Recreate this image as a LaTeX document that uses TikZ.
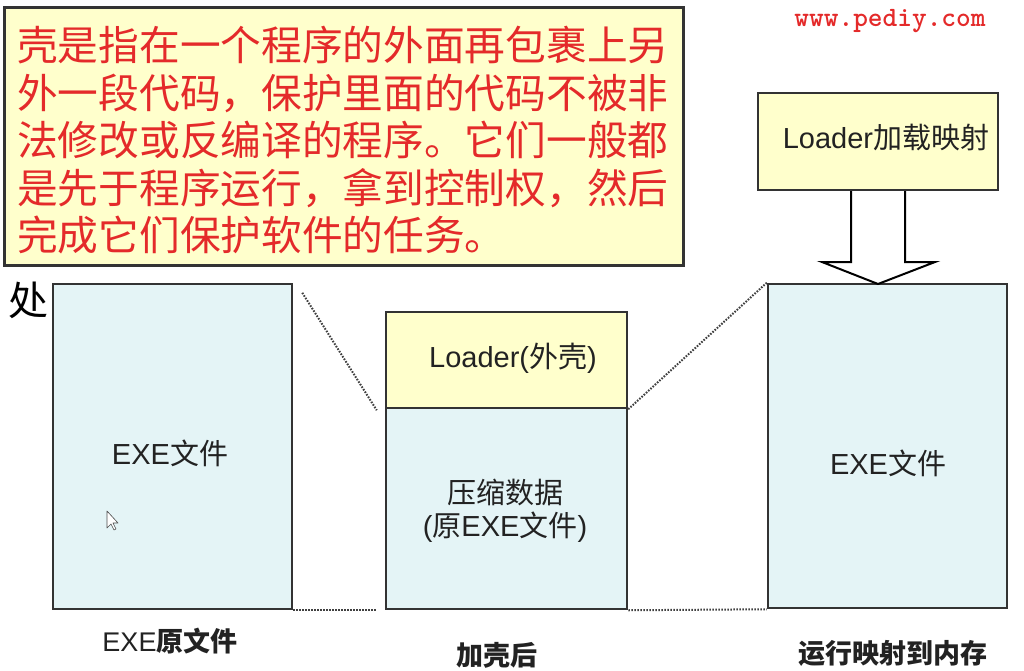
\documentclass[tikz,border=0pt]{standalone}
\usepackage{fontspec}
\setmainfont{Liberation Sans}
\newfontfamily\cjk{Noto Sans CJK SC}
\definecolor{noteyellow}{HTML}{FFFFCC}
\definecolor{boxblue}{HTML}{E4F4F6}
\definecolor{notered}{HTML}{E42A2A}
\definecolor{edgegray}{HTML}{333333}
\definecolor{txtgray}{HTML}{222222}
\begin{document}
\begin{tikzpicture}[x=1pt,y=-1pt,
  box/.style={draw=edgegray, line width=2.5pt, inner sep=0pt},
  bluebox/.style={box, fill=boxblue},
  yellowbox/.style={box, fill=noteyellow},
  txt/.style={inner sep=0pt, text=txtgray, align=center, font=\fontsize{29}{33}\selectfont},
  captxt/.style={inner sep=0pt, text=txtgray, font=\cjk\bfseries\fontsize{27}{32}\selectfont},
  dots/.style={draw=black!75, line width=2pt, dash pattern=on 1.6pt off 1.4pt},
  hollowarrow/.style={draw=black, fill=white, line width=2pt, line join=miter}]
\useasboundingbox (0,0) rectangle (1024,671);
\fill[white] (0,0) rectangle (1024,671);

% note box
\node[yellowbox, line width=3pt, minimum width=679pt, minimum height=257pt] (note) at (343.5,136.5) {};
\node[anchor=north west, inner sep=0pt, text=notered, align=left,
      font=\cjk\fontsize{40.7}{47.5}\selectfont] (notetext) at (17,26)
  {壳是指在一个程序的外面再包裹上另\\外一段代码，保护里面的代码不被非\\法修改或反编译的程序。它们一般都\\是先于程序运行，拿到控制权，然后\\完成它们保护软件的任务。};

% watermark
\node[inner sep=0pt, text=notered, font=\ttfamily\bfseries\fontsize{28}{30}\selectfont] (wm) at (890,21) {www.pediy.com};

% boxes
\node[bluebox, minimum width=239pt, minimum height=325pt] (orig) at (172.5,446.5) {};
\node[yellowbox, minimum width=241pt, minimum height=96pt] (shell) at (506.5,360) {};
\node[bluebox, minimum width=241pt, minimum height=201pt] (packed) at (506.5,508.5) {};
\node[bluebox, minimum width=239pt, minimum height=324pt] (mem) at (887.5,446) {};

% hollow arrow
\coordinate (tip) at (878,284);
\draw[hollowarrow] (851,190) -- (851,262) -- (822,262) -- (tip) -- (935,262) -- (905,262) -- (905,190);
\node[yellowbox, minimum width=240pt, minimum height=97pt] (loader) at (878,141.5) {};

% dotted connectors
\draw[dots] ([xshift=9pt,yshift=-10pt]orig.north east) -- ([xshift=-8pt,yshift=-1pt]shell.south west);
\draw[dots] (orig.south east) -- ([xshift=-8pt]packed.south west);
\draw[dots] (shell.south east) -- (mem.north west);
\draw[dots] (packed.south east) -- (mem.south west);

% texts inside boxes
\node[txt] (origtext) at (170,453) {EXE{\cjk 文件}};
\node[txt] (shelltext) at (513,358) {Loader({\cjk 外壳})};
\node[txt] (packedtext) at (505,511) {{\cjk 压缩数据}\\({\cjk 原}EXE{\cjk 文件})};
\node[txt] (memtext) at (888,463) {EXE{\cjk 文件}};
\node[txt] (loadertext) at (886,138) {Loader{\cjk 加载映射}};

% captions
\node[captxt] (cap1) at (170,641) {{\mdseries\rmfamily EXE}原文件};
\node[captxt] (cap2) at (497,655) {加壳后};
\node[captxt] (cap3) at (893,653) {运行映射到内存};

% stray character
\node[inner sep=0pt, text=black, font=\cjk\fontsize{40}{44}\selectfont] (chu) at (29,300) {处};

% mouse cursor
\draw[black!70, fill=white, line width=0.6pt, line join=round]
  (107,511) -- (107,528) -- (111,524) -- (114,530) -- (116,529) -- (113,523) -- (118,523) -- cycle;
\end{tikzpicture}
\end{document}
